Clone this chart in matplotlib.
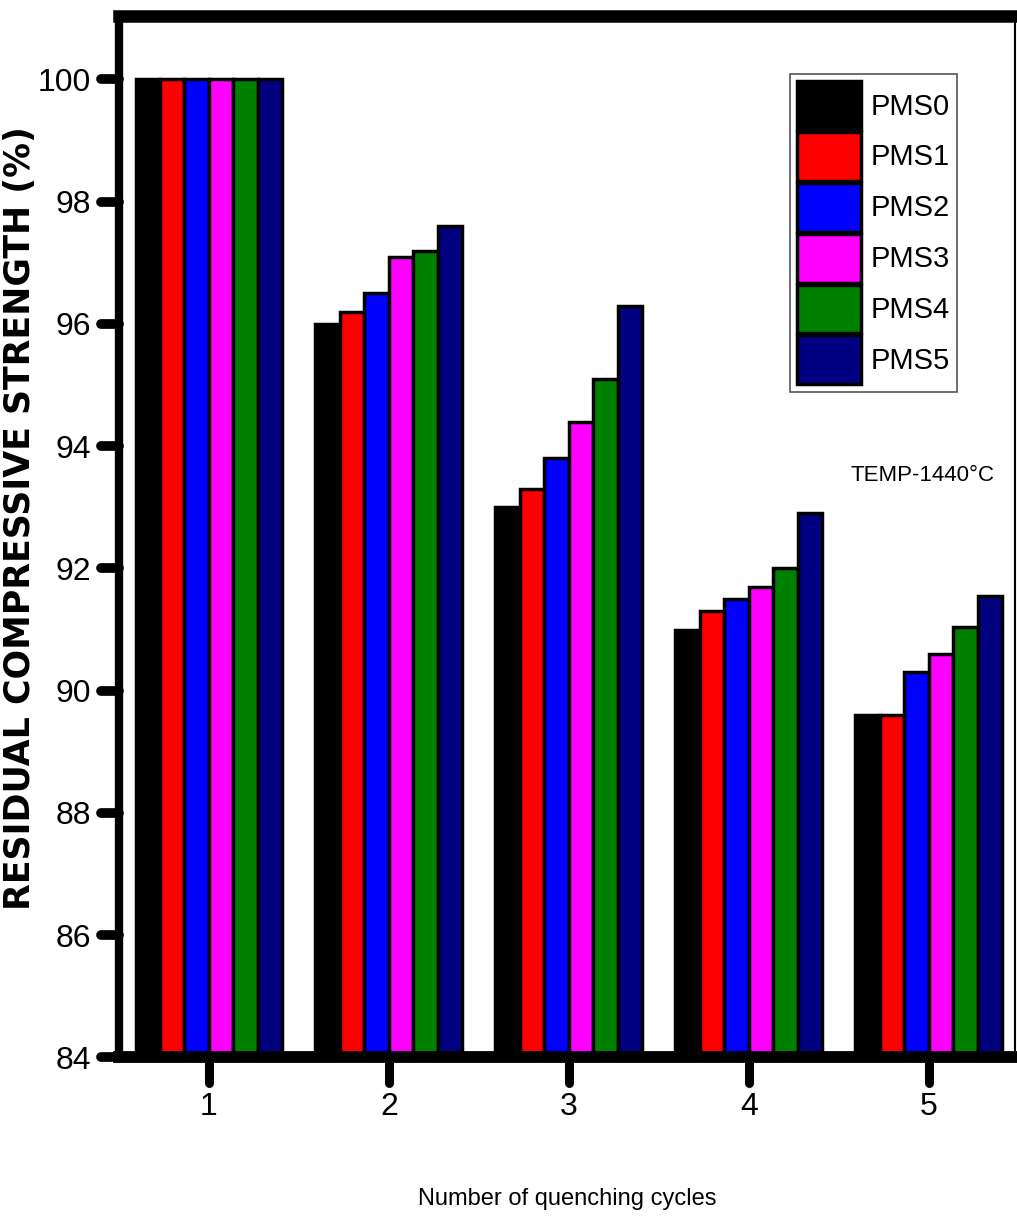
import numpy as np
import matplotlib
matplotlib.use("Agg")
import matplotlib.pyplot as plt
from matplotlib.markers import MarkerStyle, TICKLEFT, TICKDOWN

plain = "Liberation Sans"

# data
cycles = [1, 2, 3, 4, 5]
series = ["PMS0", "PMS1", "PMS2", "PMS3", "PMS4", "PMS5"]
pms0 = [100, 96.0, 93.0, 91.0, 89.6]
pms1 = [100, 96.2, 93.3, 91.3, 89.6]
pms2 = [100, 96.5, 93.8, 91.5, 90.3]
pms3 = [100, 97.1, 94.4, 91.7, 90.6]
pms4 = [100, 97.2, 95.1, 92.0, 91.05]
pms5 = [100, 97.6, 96.3, 92.9, 91.55]
yticks = [84, 86, 88, 90, 92, 94, 96, 98, 100]

colors = ["#000000", "#ff0000", "#0000ff", "#ff00ff", "#008000", "#000080"]

fig = plt.figure(figsize=(10.17, 12.2), dpi=100)
ax = fig.add_axes([0.117, 0.1332, 0.881, 0.8533])

w = 0.136
x = np.array(cycles, dtype=float)
allvals = [pms0, pms1, pms2, pms3, pms4, pms5]
for i, vals in enumerate(allvals):
    ax.bar(x + (i - 2.5) * w, vals, width=w, color=colors[i], edgecolor="black",
           linewidth=2.5, label=series[i], zorder=2)

ax.set_xlim(0.5, 5.48)
ax.set_ylim(84, 101.03)
ax.set_xticks(cycles)
ax.set_yticks(yticks)
ax.set_xticklabels([str(c) for c in cycles], fontsize=23, family=plain)
ax.set_yticklabels([str(t) for t in yticks], fontsize=23, family=plain)

ax.tick_params(axis="y", length=13, width=7, pad=7, direction="out")
ax.tick_params(axis="x", length=19, width=6.5, pad=6, direction="out")

# spines
ax.spines["left"].set_linewidth(6)
ax.spines["top"].set_linewidth(9)
ax.spines["bottom"].set_linewidth(8.5)
ax.spines["right"].set_linewidth(1.5)
for s in ax.spines.values():
    s.set_capstyle("projecting")

# rounded tick ends
for t in ax.yaxis.get_major_ticks():
    t.tick1line.set_marker(MarkerStyle(TICKLEFT, capstyle="round"))
for t in ax.xaxis.get_major_ticks():
    t.tick1line.set_marker(MarkerStyle(TICKDOWN, capstyle="round"))

ax.set_ylabel("RESIDUAL COMPRESSIVE STRENGTH (%)", fontsize=25, fontweight="bold",
              family="DejaVu Sans")
ax.yaxis.set_label_coords(-0.092, 0.518)
ax.set_xlabel("Number of quenching cycles", fontsize=17, family=plain)
ax.xaxis.set_label_coords(0.5, -0.125)

leg = ax.legend(loc="upper right", bbox_to_anchor=(0.935, 0.945), borderaxespad=0,
                fancybox=False, prop={"family": plain, "size": 21},
                handlelength=2.2, handleheight=2.2, labelspacing=0.07,
                handletextpad=0.3, borderpad=0.25, framealpha=1)
leg.get_frame().set_edgecolor("#555555")
leg.get_frame().set_linewidth(1.2)

ax.text(0.897, 0.559, "TEMP-1440\u00b0C", transform=ax.transAxes, fontsize=16,
        family=plain, ha="center", va="center")

fig.savefig("out.png", dpi=100)
